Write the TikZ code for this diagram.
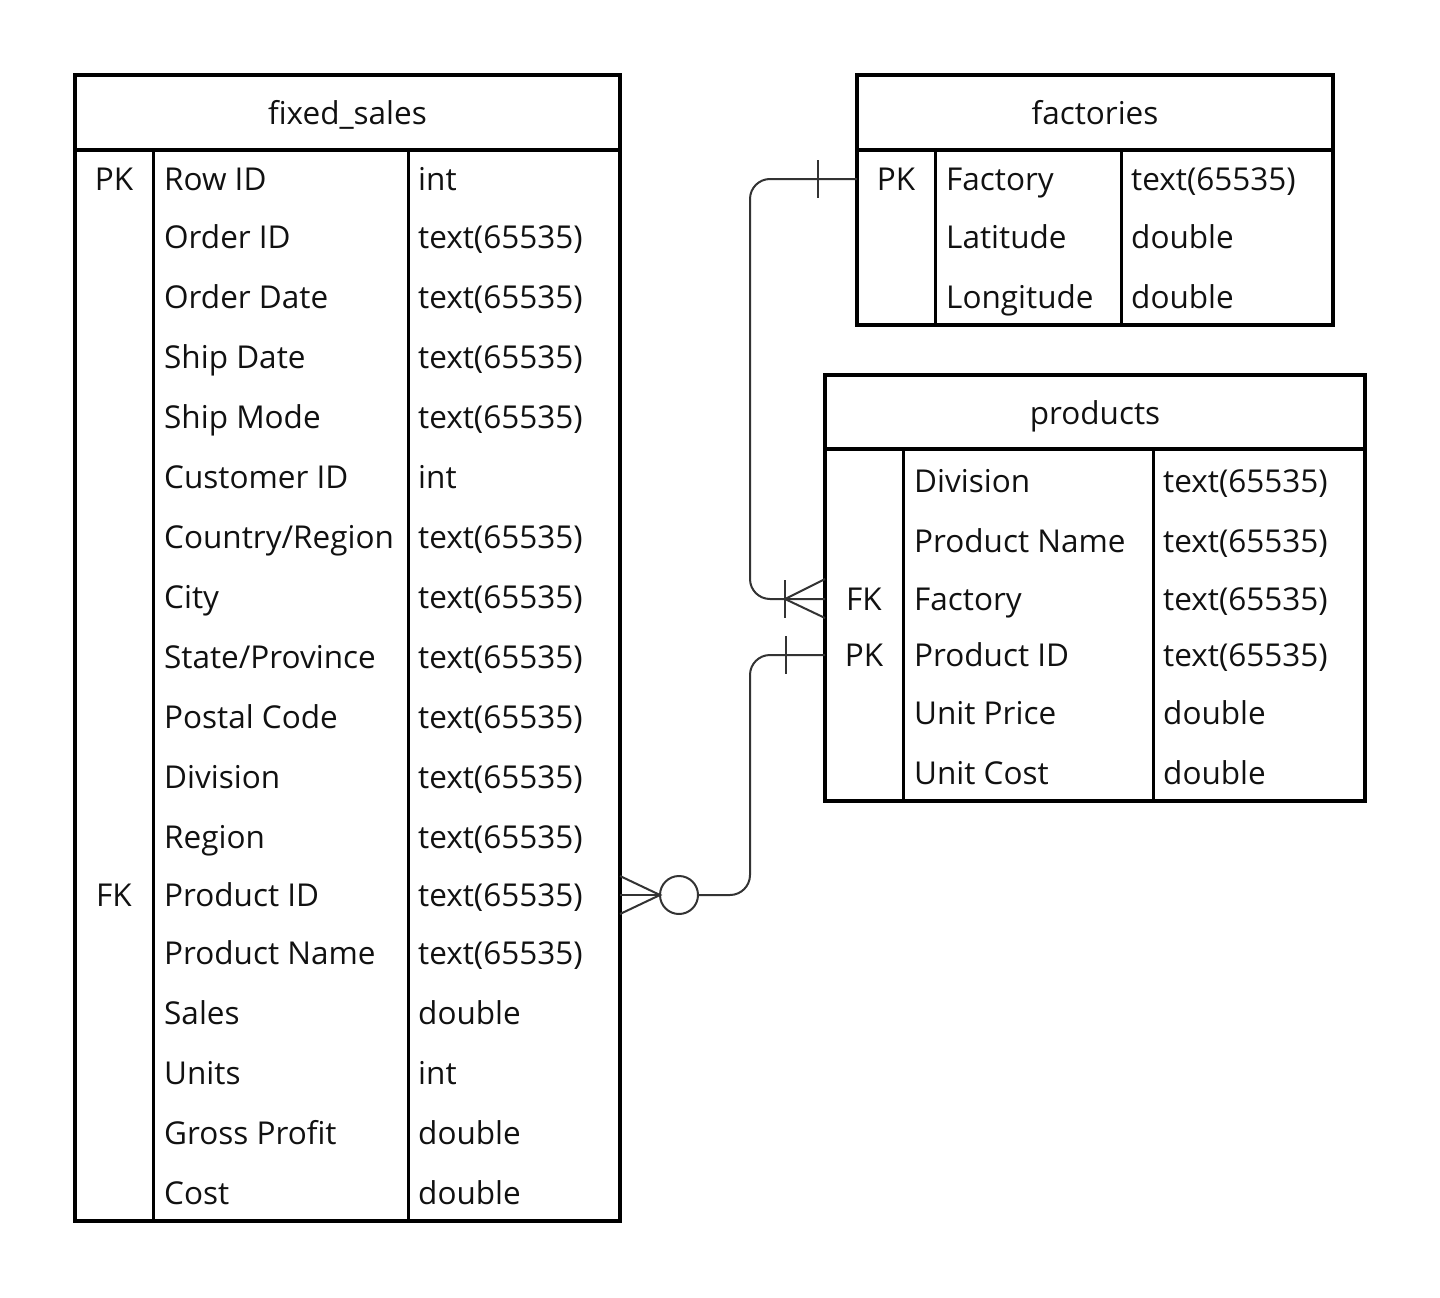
\documentclass[tikz,border=0pt]{standalone}
\usepackage{fontspec}
\setmainfont{Open Sans}
\usetikzlibrary{calc}
\definecolor{connc}{HTML}{333333}
\definecolor{ink}{HTML}{111111}
\newcommand\fsrow[4]{\node[txt] (s#1) at (164,#2) {#3}; \node[txt] (st#1) at (418,#2) {#4};}
\newcommand\facrow[4]{\node[txt] (f#1) at (946,#2) {#3}; \node[txt] (ft#1) at (1131,#2) {#4};}
\newcommand\prrow[4]{\node[txt] (p#1) at (914,#2) {#3}; \node[txt] (pt#1) at (1163,#2) {#4};}
\begin{document}
\begin{tikzpicture}[x=1pt,y=-1pt,
  txt/.style={anchor=west, inner sep=0pt, text height=22pt, text depth=0pt, text=ink, font=\fontsize{31.5}{37}\selectfont},
  keyl/.style={anchor=center, inner sep=0pt, text height=22pt, text depth=0pt, text=ink, font=\fontsize{31.5}{37}\selectfont},
  ttl/.style={anchor=center, inner sep=0pt, text height=22pt, text depth=0pt, text=ink, font=\fontsize{31.5}{37}\selectfont},
  tblbox/.style={draw=black, line width=4pt, rectangle, inner sep=0pt, outer sep=0pt, anchor=north west},
  hline/.style={draw=black, line width=3.5pt},
  vline/.style={draw=black, line width=3pt},
  connl/.style={draw=connc, line width=2pt}]
\useasboundingbox (0,0) rectangle (1440,1298);

% ---------- fixed_sales ----------
\node[tblbox, minimum width=545pt, minimum height=1146pt] (fs) at (75,75) {};
\draw[hline] (75,150) -- (620,150);
\draw[vline] (153,150) -- (153,1221);
\draw[vline] (408,150) -- (408,1221);
\node[ttl] (fst) at (347.5,113) {fixed\_sales};
\node[keyl] (skpk) at (114,179) {PK};
\node[keyl] (skfk) at (114,895) {FK};
\fsrow{1}{179}{Row ID}{int}
\fsrow{2}{237}{Order ID}{text(65535)}
\fsrow{3}{297}{Order Date}{text(65535)}
\fsrow{4}{357}{Ship Date}{text(65535)}
\fsrow{5}{417}{Ship Mode}{text(65535)}
\fsrow{6}{477}{Customer ID}{int}
\fsrow{7}{537}{Country/Region}{text(65535)}
\fsrow{8}{597}{City}{text(65535)}
\fsrow{9}{657}{State/Province}{text(65535)}
\fsrow{10}{717}{Postal Code}{text(65535)}
\fsrow{11}{777}{Division}{text(65535)}
\fsrow{12}{837}{Region}{text(65535)}
\fsrow{13}{895}{Product ID}{text(65535)}
\fsrow{14}{953}{Product Name}{text(65535)}
\fsrow{15}{1013}{Sales}{double}
\fsrow{16}{1073}{Units}{int}
\fsrow{17}{1133}{Gross Profit}{double}
\fsrow{18}{1193}{Cost}{double}

% ---------- factories ----------
\node[tblbox, minimum width=476pt, minimum height=250pt] (fac) at (857,75) {};
\draw[hline] (857,150) -- (1333,150);
\draw[vline] (935,150) -- (935,325);
\draw[vline] (1121,150) -- (1121,325);
\node[ttl] (fact) at (1095,113) {factories};
\node[keyl] (fkpk) at (896,179) {PK};
\facrow{1}{179}{Factory}{text(65535)}
\facrow{2}{237}{Latitude}{double}
\facrow{3}{297}{Longitude}{double}

% ---------- products ----------
\node[tblbox, minimum width=540pt, minimum height=426pt] (prod) at (825,375) {};
\draw[hline] (825,449) -- (1365,449);
\draw[vline] (903,449) -- (903,801);
\draw[vline] (1153,449) -- (1153,801);
\node[ttl] (prodt) at (1095,413) {products};
\node[keyl] (pkfk) at (864,599) {FK};
\node[keyl] (pkpk) at (864,655) {PK};
\prrow{1}{481}{Division}{text(65535)}
\prrow{2}{541}{Product Name}{text(65535)}
\prrow{3}{599}{Factory}{text(65535)}
\prrow{4}{655}{Product ID}{text(65535)}
\prrow{5}{713}{Unit Price}{double}
\prrow{6}{773}{Unit Cost}{double}

% ---------- connectors ----------
\coordinate (bus) at (750,0);
% factories.Factory (one) -> products.Factory (many)
\coordinate (A) at (fac.west |- f1);
\coordinate (B) at (prod.west |- p3);
\draw[connl, rounded corners=20pt] (A) -| (bus |- B) -- (B);
\draw[connl] ($(A)+(-39,-19)$) -- ($(A)+(-39,19)$);
\draw[connl] ($(B)+(0,-20)$) -- ($(B)+(-40,0)$) -- ($(B)+(0,19)$);
\draw[connl] ($(B)+(-40,-19)$) -- ($(B)+(-40,19)$);

% products.Product ID (one) -> fixed_sales.Product ID (zero or many)
\coordinate (C) at (prod.west |- p4);
\coordinate (D) at (fs.east |- s13);
\node[circle, draw=connc, line width=2pt, minimum size=38pt, inner sep=0pt, outer sep=0pt] (ring) at ($(D)+(59,0)$) {};
\draw[connl, rounded corners=20pt] (C) -| (bus |- D) -- (ring.east);
\draw[connl] ($(C)+(-39,-19)$) -- ($(C)+(-39,19)$);
\draw[connl] ($(D)+(0,-19)$) -- (ring.west) -- ($(D)+(0,19)$);
\draw[connl] (ring.west) -- (D);
\end{tikzpicture}
\end{document}
